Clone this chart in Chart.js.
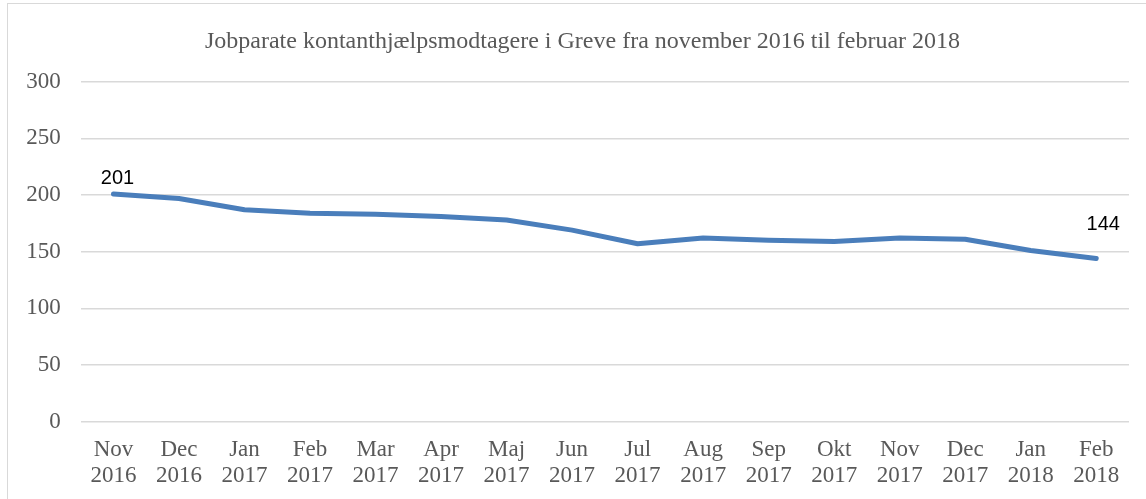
<!DOCTYPE html>
<html>
<head>
<meta charset="utf-8">
<script src="https://cdn.jsdelivr.net/npm/chart.js@4"></script>
<style>
html,body{margin:0;padding:0;background:#fff;}
#wrap{position:absolute;left:0;top:0;width:1146px;height:499px;}
#frame{position:absolute;left:7px;top:3px;width:1139px;height:496px;box-sizing:border-box;border:1px solid #d9d9d9;border-right:none;border-bottom:none;}
canvas{position:absolute;left:0;top:0;}
</style>
</head>
<body>
<div id="wrap">
<div id="frame"></div>
<canvas id="c" width="1146" height="499"></canvas>
</div>
<script>
const chartTitle = "Jobparate kontanthjælpsmodtagere i Greve fra november 2016 til februar 2018";
const months = ["Nov","Dec","Jan","Feb","Mar","Apr","Maj","Jun","Jul","Aug","Sep","Okt","Nov","Dec","Jan","Feb"];
const years = ["2016","2016","2017","2017","2017","2017","2017","2017","2017","2017","2017","2017","2017","2017","2018","2018"];
const values = [201,197,187,184,183,181,178,169,157,162,160,159,162,161,151,144];
const labeledIdx = [0, 15];

const labels = months.map((m,i)=>[m, years[i]]);
const serif = '"Liberation Serif", "Times New Roman", serif';

const pointLabels = {
  id:'pointLabels',
  afterDatasetsDraw(chart){
    const ctx = chart.ctx;
    const meta = chart.getDatasetMeta(0);
    ctx.save();
    ctx.font = '20px "Liberation Sans", Arial, sans-serif';
    ctx.fillStyle = '#000';
    ctx.textAlign = 'center';
    ctx.textBaseline = 'alphabetic';
    labeledIdx.forEach(i=>{
      const p = meta.data[i];
      if (i === 0) ctx.fillText(String(values[i]), p.x + 4, p.y - 10);
      else ctx.fillText(String(values[i]), p.x + 7, p.y - 28);
    });
    ctx.restore();
  }
};

// center the title over the same span as in the reference
const titleShift = {
  id:'titleShift',
  afterLayout(chart){
    if (chart.titleBlock) { chart.titleBlock.left += 30; }
  }
};

new Chart(document.getElementById('c'), {
  type:'line',
  data:{
    labels: labels,
    datasets:[{
      data: values,
      borderColor:'#4a7ebb',
      borderWidth:5,
      pointRadius:0,
      tension:0,
      borderCapStyle:'round',
      borderJoinStyle:'round',
      fill:false
    }]
  },
  options:{
    responsive:false,
    animation:false,
    layout:{padding:{left:6,right:17,top:27,bottom:2}},
    plugins:{
      legend:{display:false},
      tooltip:{enabled:false},
      title:{
        display:true,
        text: chartTitle,
        color:'#595959',
        font:{family:serif, size:24, weight:'normal'},
        padding:{top:0,bottom:26}
      }
    },
    scales:{
      x:{
        offset:true,
        grid:{display:false},
        border:{display:false},
        ticks:{
          color:'#595959',
          font:{family:serif, size:23, lineHeight:1.12},
          maxRotation:0,
          autoSkip:false,
          padding:8
        }
      },
      y:{
        min:0,max:300,
        afterFit(scale){ scale.width = 74.7; },
        ticks:{
          stepSize:50,
          color:'#595959',
          font:{family:serif, size:23},
          padding:20
        },
        grid:{color:'#d9d9d9',lineWidth:1.5,drawTicks:false},
        border:{display:false}
      }
    }
  },
  plugins:[pointLabels, titleShift]
});
</script>
</body>
</html>
